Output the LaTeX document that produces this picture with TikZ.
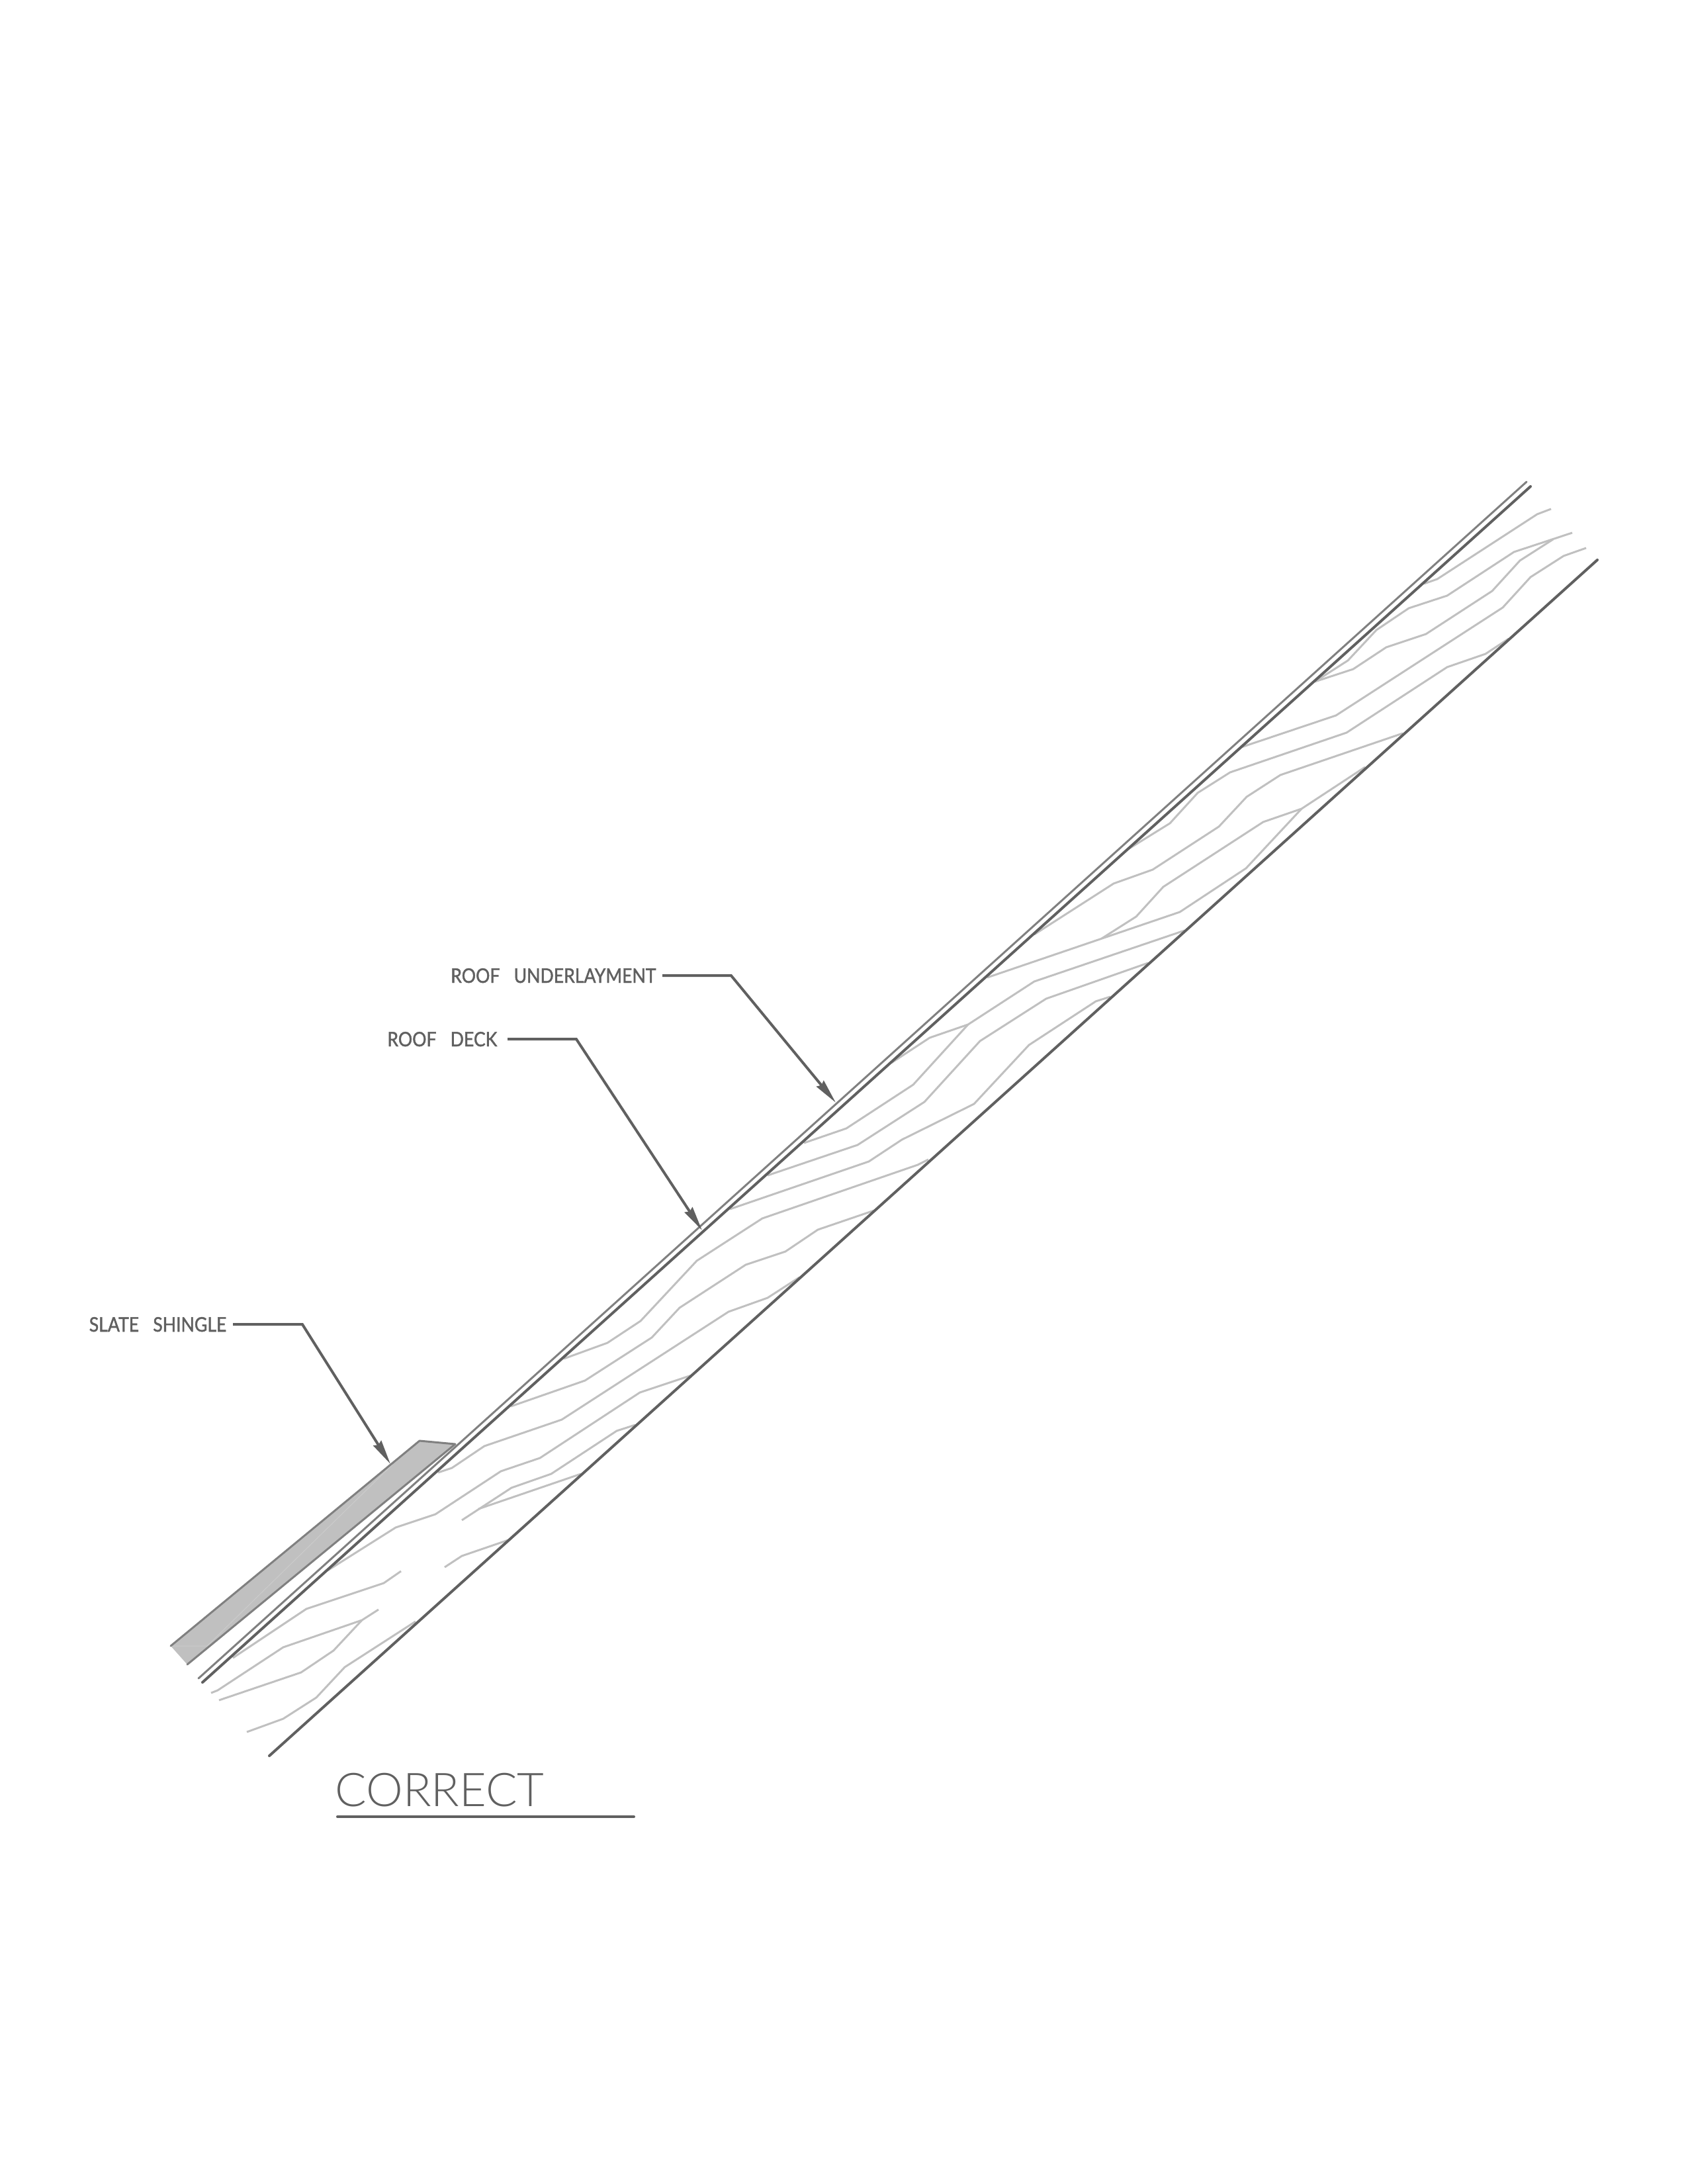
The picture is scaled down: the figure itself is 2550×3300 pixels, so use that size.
\documentclass[tikz,border=0pt]{standalone}
\usepackage{fontspec}
\usetikzlibrary{arrows.meta}
\setmainfont{Lato}
\newfontfamily\titlefont{Lato Light}
\newfontfamily\calloutfont{Lato}[FakeBold=1.5, FakeStretch=.88]
\definecolor{darkline}{HTML}{606060}
\definecolor{midline}{HTML}{808080}
\definecolor{grainline}{HTML}{C0C0C0}
\definecolor{paleline}{HTML}{CCCCCC}
\newcommand{\wordgap}{\hspace{.7em}}
\begin{document}
\begin{tikzpicture}[x=.01cm, y=-.01cm,
      main/.style = {draw=darkline, line width=.4mm, line cap=round},
      under/.style = {draw=midline, line width=.3mm, line cap=round},
      grain/.style = {draw=grainline, line width=.3mm, line join=round},
      leader/.style = {draw=darkline, line width=.4mm, -{Stealth[length=3.7mm, width=1.4mm, inset=.3mm]}, shorten <=.9mm},
      callout/.style = {anchor=base east, inner sep=0pt, text=darkline, font=\fontsize{8.6}{10}\calloutfont},
      title/.style = {anchor=base west, inner sep=0pt, text=darkline, font=\fontsize{20}{22}\titlefont}]
      \useasboundingbox (0,0) rectangle (2550,3300);

      \draw[grain] (2152,882) -- (2172,875) -- (2323,777) -- (2344,769);
      \draw[grain] (1987,1030) -- (2037,998) -- (2080,952) -- (2129,919) -- (2187,900) -- (2288,834) -- (2376,805);
      \draw[grain] (1987,1030) -- (2045,1011) -- (2095,978) -- (2155,958) -- (2255,893) -- (2297,847) -- (2347,815);
      \draw[grain] (1876,1129) -- (2019,1081) -- (2271,918) -- (2313,872) -- (2363,840) -- (2397,828);
      \draw[grain] (1705,1283) -- (1768,1244) -- (1810,1198) -- (1859,1167) -- (2035,1107) -- (2187,1008) -- (2245,988) -- (2280,965);
      \draw[grain] (1563,1412) -- (1683,1335) -- (1742,1314) -- (1842,1249) -- (1884,1204) -- (1935,1171) -- (2120,1108);
      \draw[grain] (1665,1418) -- (1717,1385) -- (1758,1340) -- (1909,1242) -- (1967,1222) -- (2063,1159);
      \draw[grain] (1492,1477) -- (1783,1378) -- (1883,1312) -- (1967,1222);
      \draw[grain] (1347,1606) -- (1405,1568) -- (1463,1548) -- (1563,1483) -- (1790,1406);
      \draw[grain] (1160,1776) -- (1296,1730) -- (1397,1665) -- (1481,1573) -- (1581,1509) -- (1735,1455);
      \draw[grain] (1103,1827) -- (1313,1755) -- (1363,1722) -- (1472,1668) -- (1555,1579) -- (1656,1513) -- (1678,1506);
      \draw[grain] (1215,1727) -- (1279,1705) -- (1380,1639) -- (1463,1548);
      \draw[grain] (852,2053) -- (918,2029) -- (968,1996) -- (1053,1905) -- (1152,1841) -- (1387,1760) -- (1403,1752);
      \draw[grain] (772,2125) -- (884,2086) -- (985,2021) -- (1027,1976) -- (1127,1911) -- (1187,1891) -- (1236,1858) -- (1321,1829);
      \draw[grain] (662,2225) -- (683,2218) -- (732,2185) -- (849,2145) -- (1101,1982) -- (1160,1961) -- (1208,1930);
      \draw[grain] (495,2373) -- (598,2308) -- (658,2288) -- (757,2223) -- (816,2203) -- (967,2104) -- (1045,2078);
      \draw[grain] (698,2297) -- (773,2248) -- (833,2227) -- (932,2162) -- (960,2153);
      \draw[grain] (723,2280) -- (878,2227);
      \draw[grain] (672,2368) -- (698,2351) -- (768,2327);
      \draw[grain] (352,2505) -- (463,2431) -- (580,2392) -- (606,2374);
      \draw[grain] (319,2558) -- (329,2554) -- (428,2489) -- (547,2448) -- (572,2432);
      \draw[grain] (331,2569) -- (455,2527) -- (504,2494) -- (547,2448);
      \draw[grain] (373,2617) -- (428,2597) -- (478,2565) -- (521,2519) -- (628,2450);

      \fill[grainline] (258,2487) -- (634,2177) -- (688,2182) -- (283,2515) -- cycle;
      \draw[paleline, line width=.1mm] (258,2487) -- (313,2487) -- (593,2213);
      \draw[under, line join=round] (258,2487) -- (634,2177) -- (688,2182) -- (283,2515);
      \draw[under] (300,2536) -- (2307,728);
      \draw[main] (306,2542) -- (2313,735);
      \draw[main] (407,2653) -- (2414,846);

      \node[callout] (underlayment) at (992,1485) {ROOF\wordgap UNDERLAYMENT};
      \node[callout] (deck) at (752,1581) {ROOF\wordgap DECK};
      \node[callout] (shingle) at (343,2012) {SLATE\wordgap SHINGLE};
      \node[title] (correct) at (506,2729) {CORRECT};

      \coordinate (underlaymentbend) at (1105,1474);
      \coordinate (underlaymenttip) at (1263,1666);
      \coordinate (deckbend) at (871,1570);
      \coordinate (decktip) at (1061,1859);
      \coordinate (shinglebend) at (457,2001);
      \coordinate (shingletip) at (590,2212);
      \coordinate (ruleleft) at (510,2745);
      \coordinate (ruleright) at (958,2745);

      \draw[leader] (underlayment.east) -- (underlayment.east -| underlaymentbend) -- (underlaymenttip);
      \draw[leader, shorten <=1.5mm] (deck.east) -- (deck.east -| deckbend) -- (decktip);
      \draw[leader] (shingle.east) -- (shingle.east -| shinglebend) -- (shingletip);
      \draw[main] (ruleleft) -- (ruleright);
    \end{tikzpicture}
\end{document}
